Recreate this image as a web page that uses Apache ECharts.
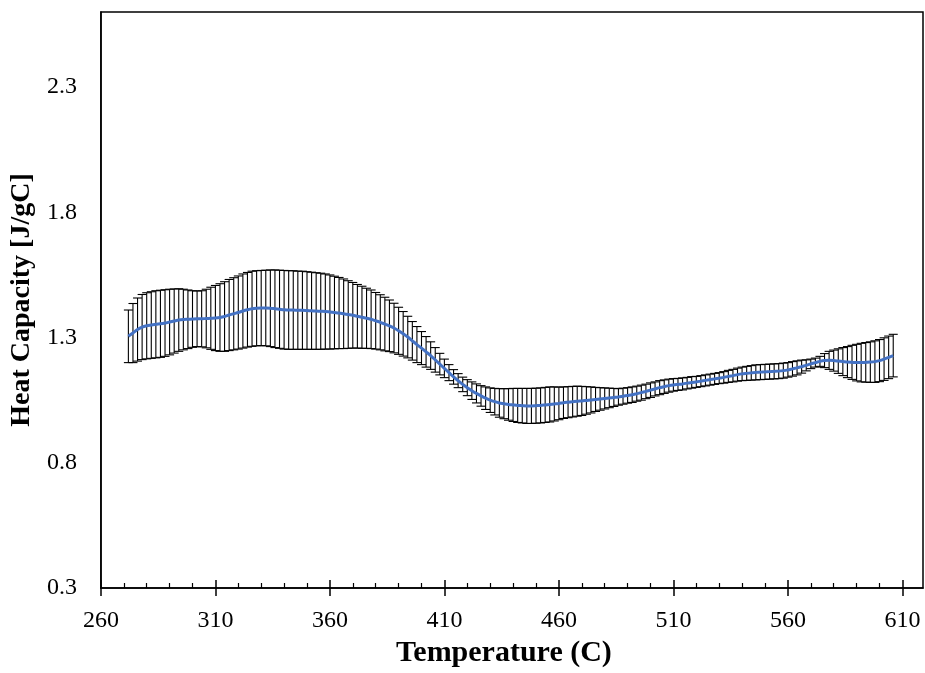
<!DOCTYPE html>
<html>
<head>
<meta charset="utf-8">
<script src="https://cdn.jsdelivr.net/npm/echarts@6/dist/echarts.min.js"></script>
<style>html,body{margin:0;padding:0;background:#fff}#c{width:925px;height:673px}</style>
</head>
<body>
<div id="c"></div>
<script>
// Temperature (C) sample positions
const temps = [
272,274,276,278,280,282,284,286,288,290,
292,294,296,298,300,302,304,306,308,310,
312,314,316,318,320,322,324,326,328,330,
332,334,336,338,340,342,344,346,348,350,
352,354,356,358,360,362,364,366,368,370,
372,374,376,378,380,382,384,386,388,390,
392,394,396,398,400,402,404,406,408,410,
412,414,416,418,420,422,424,426,428,430,
432,434,436,438,440,442,444,446,448,450,
452,454,456,458,460,462,464,466,468,470,
472,474,476,478,480,482,484,486,488,490,
492,494,496,498,500,502,504,506,508,510,
512,514,516,518,520,522,524,526,528,530,
532,534,536,538,540,542,544,546,548,550,
552,554,556,558,560,562,564,566,568,570,
572,574,576,578,580,582,584,586,588,590,
592,594,596,598,600,602,604,606];
// Mean heat capacity [J/gC]
const meanCp = [
1.305,1.318,1.332,1.342,1.347,1.350,1.353,1.355,1.358,1.362,
1.366,1.370,1.372,1.373,1.374,1.375,1.375,1.376,1.377,1.378,
1.380,1.384,1.390,1.395,1.400,1.406,1.411,1.415,1.417,1.418,
1.418,1.417,1.415,1.413,1.411,1.410,1.410,1.409,1.409,1.408,
1.407,1.406,1.405,1.404,1.402,1.400,1.398,1.395,1.392,1.389,
1.385,1.381,1.377,1.373,1.367,1.361,1.354,1.347,1.338,1.327,
1.315,1.302,1.287,1.272,1.258,1.243,1.228,1.211,1.194,1.177,
1.160,1.143,1.128,1.113,1.100,1.088,1.077,1.067,1.058,1.050,
1.044,1.039,1.036,1.033,1.031,1.029,1.028,1.027,1.027,1.028,
1.029,1.031,1.033,1.035,1.037,1.040,1.042,1.044,1.046,1.047,
1.049,1.051,1.053,1.055,1.057,1.059,1.061,1.063,1.066,1.069,
1.072,1.076,1.080,1.085,1.090,1.095,1.100,1.104,1.108,1.111,
1.113,1.115,1.118,1.121,1.123,1.126,1.129,1.132,1.135,1.138,
1.141,1.145,1.148,1.152,1.155,1.157,1.159,1.161,1.162,1.163,
1.164,1.165,1.166,1.168,1.171,1.175,1.179,1.184,1.189,1.195,
1.200,1.205,1.208,1.209,1.208,1.206,1.204,1.202,1.201,1.200,
1.200,1.201,1.202,1.204,1.208,1.214,1.221,1.228];
// Error (half-height of error bar)
const errCp = [
0.105,0.118,0.126,0.130,0.132,0.133,0.134,0.134,0.133,0.131,
0.128,0.125,0.121,0.117,0.113,0.111,0.112,0.117,0.124,0.130,
0.135,0.139,0.142,0.144,0.146,0.148,0.149,0.150,0.150,0.150,
0.151,0.153,0.155,0.156,0.157,0.157,0.157,0.156,0.156,0.155,
0.154,0.153,0.152,0.150,0.148,0.145,0.142,0.139,0.135,0.131,
0.127,0.124,0.120,0.117,0.113,0.110,0.107,0.103,0.099,0.094,
0.089,0.083,0.077,0.072,0.066,0.061,0.055,0.049,0.043,0.037,
0.032,0.029,0.028,0.029,0.032,0.035,0.038,0.041,0.045,0.049,
0.053,0.057,0.060,0.063,0.066,0.068,0.069,0.070,0.070,0.070,
0.070,0.070,0.070,0.068,0.065,0.063,0.062,0.061,0.060,0.058,
0.055,0.052,0.048,0.045,0.042,0.039,0.036,0.033,0.032,0.031,
0.031,0.030,0.030,0.029,0.029,0.028,0.028,0.027,0.026,0.025,
0.024,0.024,0.023,0.023,0.022,0.022,0.022,0.022,0.022,0.022,
0.023,0.024,0.025,0.026,0.027,0.028,0.029,0.030,0.030,0.030,
0.030,0.030,0.030,0.030,0.029,0.029,0.028,0.026,0.022,0.019,
0.018,0.020,0.028,0.036,0.042,0.049,0.056,0.062,0.068,0.073,
0.077,0.079,0.081,0.083,0.084,0.085,0.085,0.085];
// Tick labels
const xMajorTicks = [260,310,360,410,460,510,560,610];
const xMinorTicks = [270,280,290,300,320,330,340,350,370,380,390,400,420,430,440,450,470,480,490,500,520,530,540,550,570,580,590,600];
const yTicks = [0.3,0.8,1.3,1.8,2.3];

const lineData = temps.map((t,i)=>[t, meanCp[i]]);
const barData = temps.map((t,i)=>[t, meanCp[i]-errCp[i], meanCp[i]+errCp[i]]);

const FONT = '"Liberation Serif","Times New Roman",serif';
const X_MIN = 260, X_MAX = 619, Y_MIN = 0.3, Y_MAX = 2.6;

function baseX(extra){
  return Object.assign({
    type:'value', min:X_MIN, max:X_MAX, gridIndex:0, position:'bottom',
    splitLine:{show:false}, axisLine:{show:false}, axisLabel:{show:false},
    axisTick:{show:false}, minorTick:{show:false}
  }, extra);
}

const chart = echarts.init(document.getElementById('c'), null, {renderer:'canvas'});
chart.setOption({
  backgroundColor:'#ffffff',
  animation:false,
  grid:{left:98, right:2, top:12, bottom:81, show:true, borderColor:'#000', borderWidth:1.5, backgroundColor:'#fff'},
  xAxis:[
    baseX({
      axisLine:{show:true, lineStyle:{color:'#000', width:1.5}},
      axisTick:{show:true, inside:false, length:8, customValues:xMajorTicks, lineStyle:{color:'#000', width:1.5}},
      axisLabel:{show:true, customValues:xMajorTicks, color:'#000', fontFamily:FONT, fontSize:24, margin:21},
      name:'Temperature (C)', nameLocation:'middle', nameGap:50,
      nameTextStyle:{color:'#000', fontFamily:FONT, fontSize:30, fontWeight:'bold', padding:[0,16,0,0]}
    }),
    baseX({axisTick:{show:true, inside:true, length:8, customValues:xMajorTicks, lineStyle:{color:'#000', width:1.5}}}),
    baseX({axisTick:{show:true, inside:true, length:5, customValues:xMinorTicks, lineStyle:{color:'#000', width:1.2}}})
  ],
  yAxis:{
    type:'value', min:Y_MIN, max:Y_MAX, gridIndex:0,
    splitLine:{show:false},
    axisLine:{show:true, lineStyle:{color:'#000', width:1.5}},
    axisTick:{show:false},
    axisLabel:{customValues:yTicks, color:'#000', fontFamily:FONT, fontSize:24, margin:24, formatter:v=>Number(v).toFixed(1)},
    name:'Heat Capacity [J/gC]', nameLocation:'middle', nameGap:58,
    nameTextStyle:{color:'#000', fontFamily:FONT, fontSize:28, fontWeight:'bold'}
  },
  series:[
    {
      type:'custom', xAxisIndex:0, yAxisIndex:0, data:barData, z:2,
      renderItem:function(params, api){
        const x = api.value(0), lo = api.value(1), hi = api.value(2);
        const pH = api.coord([x, hi]), pL = api.coord([x, lo]);
        const w = 4.5;
        const st = {stroke:'#000', lineWidth:1.1};
        return {type:'group', children:[
          {type:'line', shape:{x1:pH[0], y1:pH[1], x2:pL[0], y2:pL[1]}, style:st},
          {type:'line', shape:{x1:pH[0]-w, y1:pH[1], x2:pH[0]+w, y2:pH[1]}, style:st},
          {type:'line', shape:{x1:pL[0]-w, y1:pL[1], x2:pL[0]+w, y2:pL[1]}, style:st}
        ]};
      }
    },
    {
      type:'line', xAxisIndex:0, yAxisIndex:0, data:lineData, z:5,
      showSymbol:false, symbol:'none', smooth:0.3,
      lineStyle:{color:'#4472C4', width:3}
    }
  ]
});
</script>
</body>
</html>
